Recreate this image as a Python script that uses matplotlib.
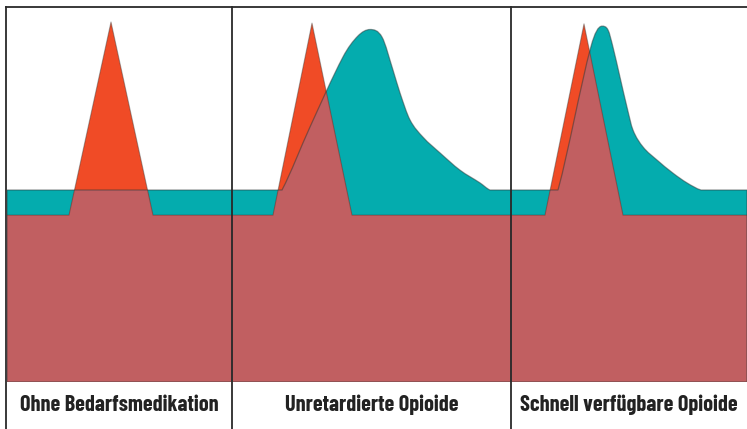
import matplotlib.pyplot as plt
import numpy as np
from matplotlib.patches import Polygon, PathPatch
from matplotlib.path import Path
from matplotlib.lines import Line2D

plt.rcParams['font.family'] = ['Barlow Condensed', 'DejaVu Sans']

TEAL = '#04acae'
ORANGE = '#f04b26'
ROSE = '#c15f61'
EDGE = '#2e3838'
FRAME = '#2a2a2a'

titles = ['Ohne Bedarfsmedikation', 'Unretardierte Opioide', 'Schnell verfügbare Opioide']

# level: 0 = bottom of the coloured area, 100 = top frame
# time: arbitrary units across each panel
panel_len = [225, 279, 236]

pain1_t = [0, 62, 104, 146, 225]
pain1_v = [44.5, 44.5, 96.0, 44.5, 44.5]
med1_t = [0, 225]
med1_v = [51.2, 51.2]

pain2_t = [0, 41, 80, 120, 279]
pain2_v = [44.5, 44.5, 95.7, 44.5, 44.5]
med2_t = [0, 50, 78, 111, 126, 138, 150, 161, 168, 178, 191, 208, 228, 248, 258, 279]
med2_v = [51.2, 51.2, 68.0, 86.7, 92.3, 94.0, 92.0, 83.2, 77.1, 69.9, 65.3, 61.1, 56.5, 53.1, 51.2, 51.2]

pain3_t = [0, 34, 73, 112, 236]
pain3_v = [44.5, 44.5, 95.5, 44.5, 44.5]
med3_t = [0, 47, 80, 91, 97, 102, 109, 116, 122, 132, 146, 162, 176, 190, 236]
med3_v = [51.2, 51.2, 89.5, 94.9, 93.9, 89.3, 81.3, 73.3, 67.2, 62.7, 59.2, 55.7, 53.1, 51.2, 51.2]

pain_t = [pain1_t, pain2_t, pain3_t]
pain_v = [pain1_v, pain2_v, pain3_v]
med_t = [med1_t, med2_t, med3_t]
med_v = [med1_v, med2_v, med3_v]


def smooth_area(t, v):
    # closed area under a smooth curve through the read points (cubic Bezier segments)
    p = np.column_stack([t, v]).astype(float)
    n = len(p)
    slope_in = np.zeros(n)
    slope_out = np.zeros(n)
    for k in range(1, n - 1):
        sl = (p[k][1] - p[k - 1][1]) / (p[k][0] - p[k - 1][0])
        sr = (p[k + 1][1] - p[k][1]) / (p[k + 1][0] - p[k][0])
        if sl == 0 and sr != 0:
            slope_out[k] = 0.85 * sr
        elif sr == 0 and sl != 0:
            slope_in[k] = 0.6 * sl
        elif sl * sr > 0:
            slope_in[k] = slope_out[k] = (p[k + 1][1] - p[k - 1][1]) / (p[k + 1][0] - p[k - 1][0])
    verts = [(t[0], 0), tuple(p[0])]
    codes = [Path.MOVETO, Path.LINETO]
    for k in range(n - 1):
        h = (p[k + 1][0] - p[k][0]) / 3.0
        c0 = (p[k][0] + h, p[k][1] + slope_out[k] * h)
        c1 = (p[k + 1][0] - h, p[k + 1][1] - slope_in[k + 1] * h)
        verts += [c0, c1, tuple(p[k + 1])]
        codes += [Path.CURVE4] * 3
    verts += [(t[-1], 0), (t[0], 0)]
    codes += [Path.LINETO, Path.CLOSEPOLY]
    return Path(verts, codes)


def area(t, v):
    return [(t[0], 0)] + list(zip(t, v)) + [(t[-1], 0)]


W, H = 747, 429
fig = plt.figure(figsize=(W / 100, H / 100), dpi=100)

lefts = [7, 232, 511]
top, bottom = 7, 382

for i in range(3):
    ax = fig.add_axes([lefts[i] / W, (H - bottom) / H, panel_len[i] / W, (bottom - top) / H])
    ax.set_xlim(0, panel_len[i])
    ax.set_ylim(0, 100)
    ax.axis('off')

    med_path = smooth_area(med_t[i], med_v[i])
    med = PathPatch(med_path, facecolor=TEAL, edgecolor='none')
    ax.add_patch(med)
    pain = Polygon(area(pain_t[i], pain_v[i]), closed=True, facecolor=ORANGE, edgecolor='none')
    ax.add_patch(pain)
    both = Polygon(area(pain_t[i], pain_v[i]), closed=True, facecolor=ROSE, edgecolor='none')
    ax.add_patch(both)
    both.set_clip_path(med)

    # thin dark outlines of both curves
    ax.add_patch(PathPatch(med_path, facecolor='none', edgecolor=EDGE, lw=0.9, alpha=0.5))
    ax.plot(pain_t[i], pain_v[i], color=EDGE, lw=0.8, alpha=0.4, solid_joinstyle='round')

    fig.text((lefts[i] + panel_len[i] / 2) / W, 1 - 405 / H, titles[i],
             ha='center', va='center', fontsize=16, fontweight='bold', color='#222222')

# frame lines
lw = 1.3
fig.add_artist(Line2D([6 / W, 1], [1 - 7 / H, 1 - 7 / H], color=FRAME, lw=lw))
for x in [6, 232, 511]:
    fig.add_artist(Line2D([x / W, x / W], [0, 1 - 7 / H], color=FRAME, lw=lw))

fig.savefig('out.png', dpi=100)
